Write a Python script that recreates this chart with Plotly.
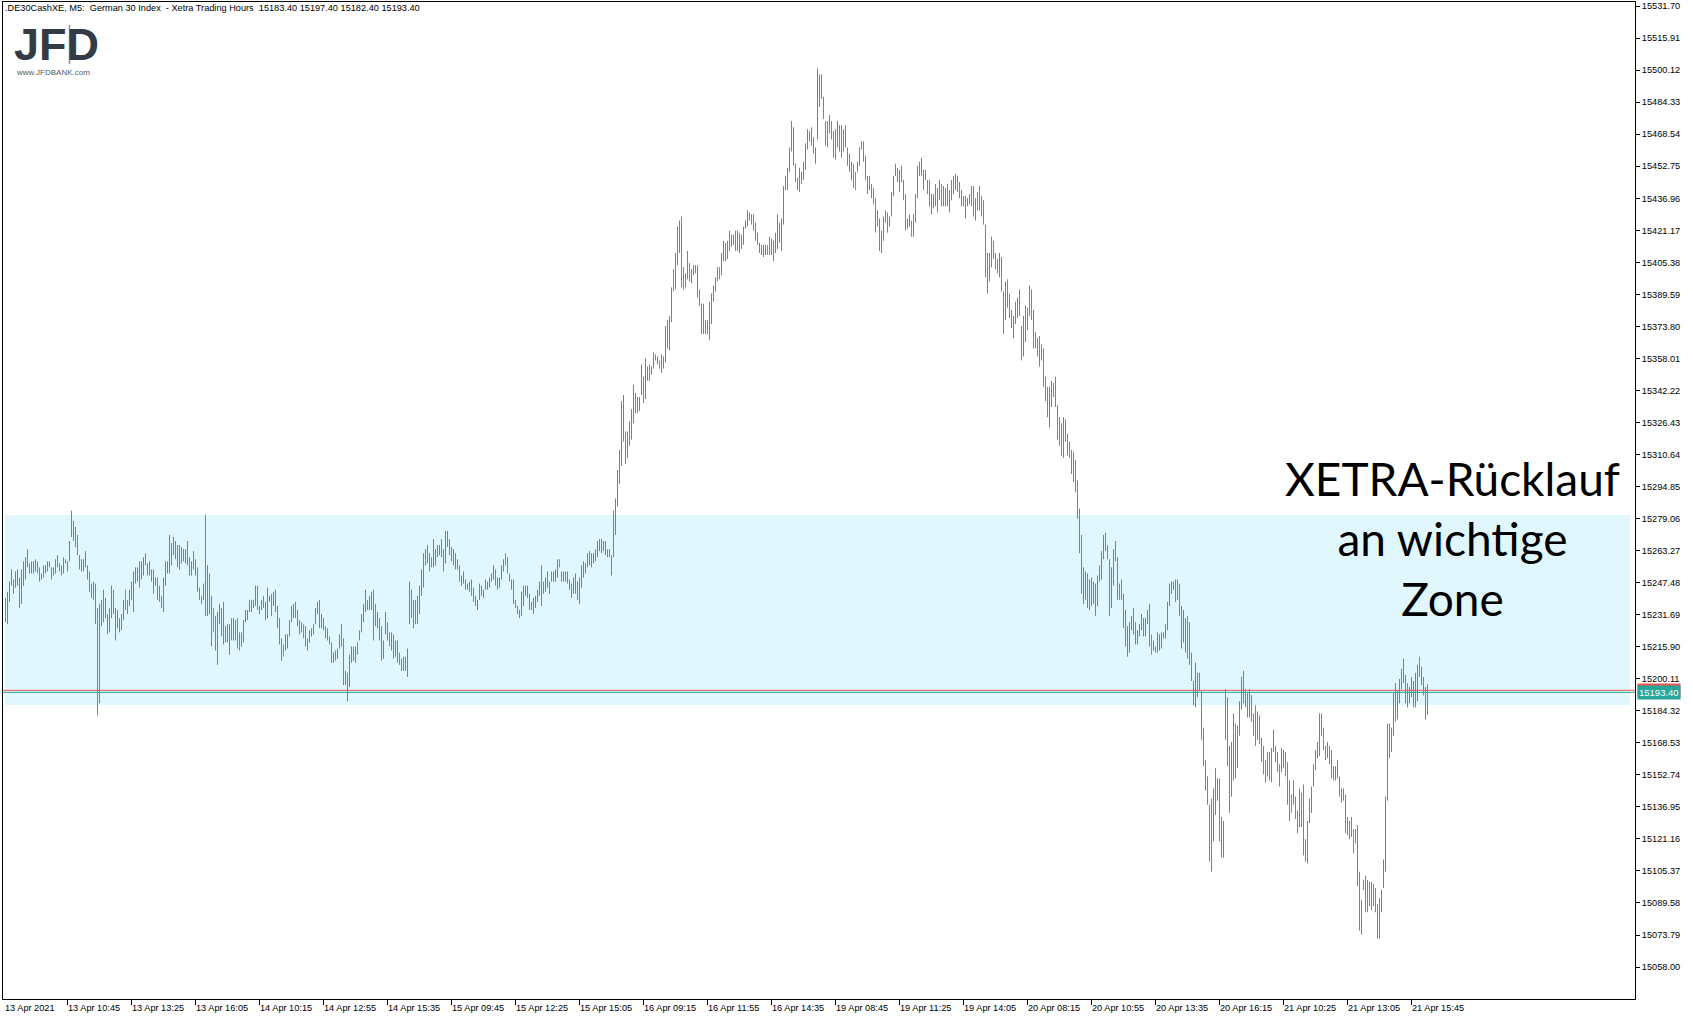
import plotly.graph_objects as go

# ---------------- data ----------------
symbol = ".DE30CashXE"
timeframe = "M5"
description = "German 30 Index  - Xetra Trading Hours"

highs = [
    15240,15243,15248,15254,15249,15253,15254,15250,15254,15258,
    15260,15264,15257,15258,15258,15259,15258,15255,15252,15256,
    15256,15258,15258,15255,15255,15259,15261,15257,15256,15260,
    15259,15258,15268,15283,15278,15275,15271,15261,15259,15259,
    15263,15256,15253,15247,15248,15247,15235,15237,15239,15244,
    15240,15232,15235,15246,15244,15235,15234,15230,15232,15239,
    15244,15239,15244,15248,15253,15255,15255,15258,15258,15260,
    15262,15257,15258,15254,15254,15250,15250,15246,15241,15250,
    15258,15258,15271,15267,15270,15268,15266,15266,15265,15264,
    15264,15268,15260,15258,15263,15259,15255,15245,15241,15247,
    15281,15256,15252,15241,15235,15231,15233,15237,15235,15238,
    15226,15227,15227,15230,15230,15229,15230,15223,15223,15229,
    15234,15234,15239,15239,15239,15246,15246,15236,15239,15241,
    15238,15245,15241,15242,15243,15244,15236,15230,15220,15217,
    15222,15222,15229,15236,15237,15238,15234,15229,
    15228,15227,15226,15220,15224,15225,15227,15235,15238,15239,
    15232,15230,15226,15225,15221,15218,15213,15214,15215,15222,
    15227,15220,15204,15203,15212,15216,15216,15216,15218,15224,
    15232,15237,15244,15239,15241,15243,15244,15237,15233,15230,
    15226,15219,15233,15228,15223,15223,15222,15219,15219,15213,
    15210,15211,15211,15215,15248,15244,15239,15239,15241,15246,
    15254,15262,15264,15266,15262,15260,15269,15264,15266,15266,
    15269,15264,15273,15273,15269,15265,15264,15262,15259,15256,
    15251,15253,15249,15247,15248,15249,15245,15241,15239,15247,
    15246,15244,15249,15248,15250,15252,15256,15254,15250,15250,
    15256,15259,15262,15260,15252,15249,15249,15239,15236,15234,
    15243,15246,15246,15246,15242,15238,15240,15241,15244,15248,
    15256,15248,15250,15253,15248,15253,15253,15254,15259,15259,
    15253,15253,15253,15253,15249,15247,15250,15252,15248,15250,
    15256,15258,15257,15262,15263,15262,15262,15264,15268,15269,
    15269,15268,15268,15264,15264,15261,
    15283,15289,15303,15313,15337,15340,15322,15322,15327,15333,
    15345,15341,15339,15339,15355,15349,15358,15354,15355,15354,
    15361,15360,15359,15357,15360,15359,15374,15377,15379,15393,
    15402,15410,15423,15426,15428,15403,15400,15411,15405,15402,
    15404,15404,15404,15392,15385,15385,15377,15377,15386,15390,
    15394,15398,15403,15403,15410,15416,15415,15416,15421,15419,
    15419,15421,15421,15420,15419,15423,15426,15431,15430,15429,
    15429,15425,15420,15415,15414,15414,15414,15414,15418,15417,
    15416,15420,15429,15425,15427,15443,15448,15452,15462,15475,
    15472,15454,15447,15452,15450,15455,15464,15471,15470,15472,
    15467,15462,15501,15498,15498,15487,15475,15475,15478,15475,
    15470,15471,15475,15473,15473,15471,15473,15462,15459,15455,
    15454,15450,15455,15462,15465,15465,15458,15448,15448,15444,
    15442,15437,15431,15427,15421,15428,15431,15430,15428,15440,
    15448,15454,15452,15451,15453,15446,15439,15427,15429,15426,
    15429,15439,15453,15455,15457,15451,15451,15446,15446,15439,
    15439,15444,15442,15446,15444,15443,15442,15444,15441,15446,
    15448,15449,15448,15445,15441,15438,15438,15437,15439,15443,
    15443,15437,15440,15443,15438,15436,15424,15410,15410,15418,
    15416,15410,15407,15410,15408,15391,15396,15397,15390,15382,
    15379,15386,15388,15392,15374,15379,15384,15383,15394,15392,
    15382,15371,15368,15369,15365,15363,15349,15344,15344,15347,
    15346,15349,15335,15329,15326,15329,15328,15321,15317,15313,
    15312,15308,
    15298,
    15284,15271,15255,15253,15252,15249,15250,15248,15247,15251,
    15256,15263,15271,15272,15266,15259,15255,15264,15268,15260,
    15247,15249,15242,15234,15226,15228,15231,15235,15228,15224,
    15227,15232,15230,15230,15234,15237,15222,15219,15216,15223,
    15222,15223,15223,15227,15238,15247,15248,15248,15249,15249,
    15247,15236,15234,15230,15231,15228,15213,15199,15208,15203,
    15203,15194,15176,15160,15152,15138,15141,15146,15156,15151,
    15151,15132,15130,15195,15191,15167,15169,15183,15178,15177,
    15189,15201,15204,15195,15193,15195,
    15192,15183,15187,15184,15182,15171,15167,15160,15164,15164,
    15166,15175,15167,15164,15158,15166,15165,15164,15159,15150,
    15143,15150,15142,15135,15146,15144,15148,15121,15130,15141,
    15147,15158,15165,15169,15183,15183,15176,15167,15169,15167,
    15165,15157,15157,15160,15152,15146,15146,15143,15132,15130,
    15132,15126,15126,15128,15105,15091,15101,15103,15101,15100,
    15100,15099,15097,15089,15092,15096,15111,15142,15178,15178,
    15176,15193,15198,15194,15200,15205,15210,15202,15198,15196,
    15201,15199,15203,15207,15211,15206,15201,15196,15197.4,
]

lows = [
    15228,15227,15238,15246,15242,15245,15246,15235,15237,15246,
    15249,15255,15252,15252,15252,15253,15252,15248,15249,15250,
    15252,15253,15255,15249,15251,15252,15255,15253,15251,15252,
    15257,15253,15258,15270,15268,15265,15261,15254,15253,15253,
    15255,15249,15243,15240,15239,15227,15182,15188,15226,15228,
    15230,15222,15223,15230,15232,15219,15225,15223,15224,15229,
    15234,15232,15236,15239,15233,15247,15248,15245,15249,15251,
    15256,15251,15251,15248,15242,15246,15239,15238,15235,15233,
    15246,15252,15252,15256,15261,15259,15255,15254,15257,15258,
    15257,15256,15251,15251,15254,15251,15243,15239,15237,15239,
    15231,15231,15232,15216,15223,15214,15207,15227,15221,15217,
    15218,15218,15212,15219,15219,15219,15215,15214,15216,15218,
    15228,15229,15233,15233,15235,15236,15234,15232,15234,15235,
    15229,15230,15238,15231,15236,15233,15225,15217,15209,15211,
    15214,15215,15221,15228,15230,15230,15226,15222,
    15223,15220,15216,15214,15218,15221,15222,15227,15232,15225,
    15225,15224,15220,15219,15217,15208,15208,15209,15210,15215,
    15216,15197,15197,15189,15196,15208,15209,15208,15212,15219,
    15223,15228,15233,15234,15234,15234,15219,15226,15225,15219,
    15209,15210,15222,15219,15216,15214,15210,15211,15208,15207,
    15204,15204,15204,15201,15227,15230,15225,15227,15227,15232,
    15241,15245,15256,15257,15253,15255,15255,15256,15260,15261,
    15260,15253,15257,15265,15261,15258,15256,15254,15254,15248,
    15246,15247,15244,15244,15243,15241,15238,15236,15234,15239,
    15241,15240,15244,15244,15245,15248,15249,15246,15244,15245,
    15249,15253,15256,15252,15248,15244,15237,15235,15232,15230,
    15231,15236,15241,15240,15234,15234,15232,15235,15238,15241,
    15236,15242,15243,15245,15242,15248,15248,15248,15250,15255,
    15248,15248,15248,15247,15244,15240,15242,15242,15239,15237,
    15245,15250,15252,15255,15256,15255,15257,15258,15260,15263,
    15262,15263,15261,15260,15260,15251,
    15260,15271,15285,15296,15305,15317,15306,15309,15315,15318,
    15326,15331,15331,15332,15340,15336,15338,15347,15347,15350,
    15353,15357,15355,15353,15351,15353,15356,15363,15362,15376,
    15391,15392,15404,15410,15393,15392,15393,15397,15396,15395,
    15399,15400,15388,15384,15370,15370,15370,15370,15367,15375,
    15386,15391,15396,15397,15399,15406,15406,15407,15411,15413,
    15414,15411,15411,15410,15412,15414,15422,15423,15426,15424,
    15421,15416,15414,15410,15409,15408,15409,15409,15409,15409,
    15406,15410,15412,15415,15411,15424,15441,15441,15450,15460,
    15453,15445,15441,15440,15444,15446,15451,15461,15465,15463,
    15459,15454,15466,15482,15486,15476,15463,15462,15469,15466,
    15457,15456,15462,15460,15457,15460,15462,15453,15450,15446,
    15442,15441,15450,15453,15461,15455,15446,15439,15441,15437,
    15434,15420,15423,15411,15410,15416,15425,15420,15423,15428,
    15438,15448,15445,15440,15445,15436,15421,15422,15423,15418,
    15418,15425,15437,15448,15448,15441,15446,15439,15433,15429,
    15432,15433,15430,15436,15433,15433,15433,15433,15430,15436,
    15439,15441,15440,15437,15433,15433,15427,15433,15434,15433,
    15428,15426,15431,15431,15428,15424,15398,15390,15396,15403,
    15407,15402,15400,15398,15391,15370,15377,15383,15378,15373,
    15368,15375,15378,15379,15357,15359,15366,15372,15379,15377,
    15363,15363,15359,15354,15357,15344,15337,15329,15324,15334,
    15339,15334,15318,15315,15310,15309,15317,15310,15309,15301,
    15297,15292,
    15279,
    15262,15242,15237,15239,15235,15234,15236,15237,15231,15236,
    15248,15249,15259,15263,15259,15231,15235,15246,15258,15239,
    15239,15239,15225,15216,15211,15213,15224,15222,15217,15217,
    15221,15224,15221,15221,15227,15216,15212,15214,15213,15213,
    15214,15215,15220,15220,15224,15236,15242,15244,15238,15239,
    15231,15215,15218,15213,15210,15207,15199,15187,15186,15191,
    15194,15170,15157,15145,15138,15110,15105,15120,15133,15140,
    15120,15112,15112,15170,15157,15134,15142,15150,15151,15156,
    15172,15185,15188,15186,15181,15181,
    15179,15172,15167,15170,15168,15159,15153,15149,15152,15150,
    15149,15164,15159,15154,15147,15154,15156,15152,15138,15130,
    15134,15138,15131,15124,15127,15127,15113,15110,15109,15129,
    15134,15147,15155,15161,15162,15172,15165,15160,15161,15158,
    15151,15150,15150,15151,15142,15139,15140,15124,15123,15121,
    15122,15114,15119,15098,15076,15074,15096,15085,15085,15088,
    15086,15088,15085,15072,15072,15085,15097,15105,15140,15161,
    15164,15172,15179,15180,15188,15195,15198,15188,15186,15188,
    15191,15186,15186,15189,15201,15197,15192,15180,15182.4,
]

# bar direction: T = close above open, R = close below open, G = unchanged
direction = (
    "RTTTRTTRTT" "TRRTTRRRTT" "TTRRTTTRRT" "RTTTRRRRTT" "RTRRTRRTTR"
    "RRTTRRRTTT" "GRTRTTTRTT" "RRRTRTRRRT" "TTTTTRRTRT" "TRRTRRRRRT"
    "RTRRGRTTRR" "TTTRTRRRTT" "TTTTTTRTTR" "RTTRTRRRRG" "TTTTTRRR"
    "RGRTTTTTTR" "TTRRRRTRTT" "RRRTTTTTTT" "TTTRRTRRTR" "RTTRGTRTRR"
    "RTRTTRRRTT" "TTTRRRTTRT" "RRTRRRRTRR" "TTRTTRRRTT" "RTTTTTTRTT"
    "TTGRRTRRRT" "TTRRRRTTTT" "RRTRRTTTTG" "RTTRRRTRRT" "TTTRTTTRTR"
    "RTRRRR"
    "RTTTTRRTRT" "TRTTTRTTRT" "TRRGTTTRTT" "GTTTRRTTRT" "TTRRRRRRTT"
    "TTRGTTRTRT" "RRTRTTTTRT" "RRRRRTTGRT" "TTTRTTTTTR" "RRRTRTTTRR"
    "RTTRRRRRTR" "RTTRRRRRRR" "GGTTTRRTRR" "RRTRTTTRTT" "TTRTRRRTTG"
    "TTTRRRRRRT" "TRTTRTTRTT" "TTRRRRRTTR"
    "RTRTRRRTRT" "RRRTRRTRRR" "TTRTRTRTTR" "RRRTRRRRTT" "RRRRRTRRRR"
    "TR"
    "R"
    "RRTTRTRTRT" "RTTRRRTTRR" "RRRRTTTRRT" "TTRTTRGRRT" "RTRTTTTTRR"
    "RRTTRRRRTR" "RRRRRRTTTT" "RRTRRRTTRT" "TTRRRT"
    "RRRTRRRRTR" "TRRRRTTRRT" "GRRRTRRRTT" "TTTRTRRRTR" "RTTRRRTRRT"
    "RGTRRTRRRT" "TRRRTTTTTR" "TTRTTTRRRT" "RRTTGRRRT"
)

last_open, last_high, last_low, last_close = 15183.40, 15197.40, 15182.40, 15193.40
ask_price = 15194.40
zone_low, zone_high = 15187.2, 15280.8

y_tick_labels = [
    "15058.00", "15073.79", "15089.58", "15105.37", "15121.16", "15136.95",
    "15152.74", "15168.53", "15184.32", "15200.11", "15215.90", "15231.69",
    "15247.48", "15263.27", "15279.06", "15294.85", "15310.64", "15326.43",
    "15342.22", "15358.01", "15373.80", "15389.59", "15405.38", "15421.17",
    "15436.96", "15452.75", "15468.54", "15484.33", "15500.12", "15515.91",
    "15531.70",
]

x_tick_labels = [
    "13 Apr 2021", "13 Apr 10:45", "13 Apr 13:25", "13 Apr 16:05", "14 Apr 10:15",
    "14 Apr 12:55", "14 Apr 15:35", "15 Apr 09:45", "15 Apr 12:25", "15 Apr 15:05",
    "16 Apr 09:15", "16 Apr 11:55", "16 Apr 14:35", "19 Apr 08:45", "19 Apr 11:25",
    "19 Apr 14:05", "20 Apr 08:15", "20 Apr 10:55", "20 Apr 13:35", "20 Apr 16:15",
    "21 Apr 10:25", "21 Apr 13:05", "21 Apr 15:45",
]
first_tick_bar = 31
bars_per_tick = 32

annotation_text = ["XETRA-Rücklauf", "an wichtige", "Zone"]

assert len(highs) == len(lows) == len(direction)

# ---------------- figure ----------------
W, H = 1693, 1020
ML, MR, MT, MB = 3, 58, 2, 21
PW, PH = W - ML - MR, H - MT - MB

UP, DOWN, FLAT = "#26a69a", "#ef5350", "#4caf73"
FONT = "Liberation Sans"
SMALL = 9.2


def px(xp):
    return (xp - ML) / PW


def py(yp):
    return 1 - (yp - MT) / PH


fig = go.Figure()

segments = {"T": ([], []), "R": ([], []), "G": ([], [])}
for i, (hi, lo, d) in enumerate(zip(highs, lows, direction)):
    xs, ys = segments[d]
    xs += [i, i, None]
    ys += [lo, hi, None]

for key, col in (("T", UP), ("R", DOWN), ("G", FLAT)):
    xs, ys = segments[key]
    fig.add_trace(go.Scatter(x=xs, y=ys, mode="lines",
                             line=dict(color=col, width=1),
                             hoverinfo="skip", showlegend=False))

y_vals = [float(v) for v in y_tick_labels]
n_ticks = len(x_tick_labels) - 1
x_tick_bars = [first_tick_bar + bars_per_tick * k for k in range(n_ticks)]

shapes = [
    # support / resistance zone
    dict(type="rect", xref="paper", yref="y", x0=px(5), x1=px(1630),
         y0=zone_low, y1=zone_high, fillcolor="#e1f7fe", line=dict(width=0),
         layer="below"),
    # ask / bid lines
    dict(type="line", xref="paper", yref="y", x0=0, x1=1, y0=ask_price, y1=ask_price,
         line=dict(color=DOWN, width=1)),
    dict(type="line", xref="paper", yref="y", x0=0, x1=1, y0=last_close, y1=last_close,
         line=dict(color=UP, width=1)),
    # logo candle
    dict(type="line", xref="paper", yref="paper", x0=px(69.5), x1=px(69.5),
         y0=py(25), y1=py(64), line=dict(color="#8f969c", width=1.5)),
]

annotations = []
# x-axis labels (left aligned to their tick like MT5)
annotations.append(dict(x=0, xref="paper", y=0, yref="paper", text=x_tick_labels[0],
                        xanchor="left", yanchor="top", yshift=-2, xshift=0,
                        showarrow=False, font=dict(family=FONT, size=SMALL, color="black")))
for b, lab in zip(x_tick_bars, x_tick_labels[1:]):
    annotations.append(dict(x=b, xref="x", y=0, yref="paper", text=lab,
                            xanchor="left", yanchor="top", yshift=-2, xshift=-2,
                            showarrow=False, font=dict(family=FONT, size=SMALL, color="black")))

# price labels on the axis
annotations.append(dict(x=1, xref="paper", y=ask_price, yref="y", text=f"{ask_price:.2f}",
                        xanchor="left", yanchor="middle", xshift=2, showarrow=False,
                        bgcolor=DOWN, borderpad=1,
                        font=dict(family=FONT, size=9.5, color="white")))
annotations.append(dict(x=1, xref="paper", y=last_close, yref="y", text=f"{last_close:.2f}",
                        xanchor="left", yanchor="middle", xshift=2, showarrow=False,
                        bgcolor=UP, borderpad=1,
                        font=dict(family=FONT, size=9.5, color="white")))

# header line
nb = "\u00a0"
header = (f"{symbol}, {timeframe}:{nb}{nb}{description.replace('  ', nb + nb)}{nb}{nb}"
          f"{last_open:.2f} {last_high:.2f} {last_low:.2f} {last_close:.2f}")
annotations.append(dict(x=px(3), xref="paper", y=py(8), yref="paper", text=header,
                        xanchor="left", yanchor="middle", showarrow=False,
                        font=dict(family=FONT, size=SMALL, color="black")))

# logo
annotations.append(dict(x=px(12), xref="paper", y=py(44), yref="paper", text="<b>JFD</b>",
                        xanchor="left", yanchor="middle", showarrow=False,
                        font=dict(family=FONT, size=45, color="#333b44")))
annotations.append(dict(x=px(14), xref="paper", y=py(72), yref="paper", text="www.JFDBANK.com",
                        xanchor="left", yanchor="middle", showarrow=False,
                        font=dict(family=FONT, size=8, color="#555b61")))

# commentary
annotations.append(dict(x=px(1452), xref="paper", y=py(538), yref="paper",
                        text="<br>".join(annotation_text), align="center",
                        xanchor="center", yanchor="middle", showarrow=False,
                        font=dict(family="Lato", size=46, color="black")))

fig.update_layout(
    width=W, height=H,
    margin=dict(l=ML, r=MR, t=MT, b=MB, pad=0),
    paper_bgcolor="white", plot_bgcolor="white",
    hovermode=False, showlegend=False,
    font=dict(family=FONT, size=SMALL, color="black"),
    shapes=shapes, annotations=annotations,
    xaxis=dict(range=[-1.25, (PW / 2) - 1.25], showgrid=False, zeroline=False,
               showline=True, linecolor="black", linewidth=1, mirror=True,
               tickmode="array", tickvals=x_tick_bars, ticks="outside", ticklen=5,
               tickcolor="black", showticklabels=False, fixedrange=True),
    yaxis=dict(range=[15534.7 - 0.49295 * (H - MB), 15534.7 - 0.49295 * MT],
               side="right", showgrid=False, zeroline=False,
               showline=True, linecolor="black", linewidth=1, mirror=True,
               tickmode="array", tickvals=y_vals, ticktext=y_tick_labels,
               ticks="outside", ticklen=4, tickcolor="black",
               tickfont=dict(family=FONT, size=SMALL, color="black"), fixedrange=True),
)

fig.write_html("out.html", config={"displayModeBar": False, "staticPlot": True},
               post_script="document.body.style.margin='0';document.body.style.overflow='hidden';")
